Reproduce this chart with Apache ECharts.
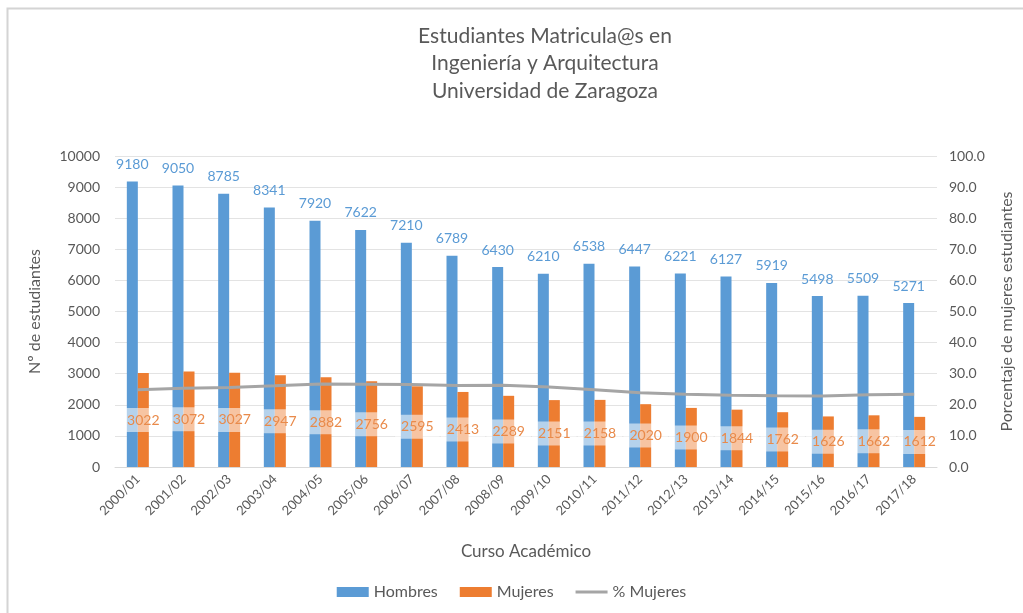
<!DOCTYPE html>
<html><head><meta charset="utf-8">
<script src="https://cdn.jsdelivr.net/npm/echarts@6/dist/echarts.min.js"></script>
<style>html,body{margin:0;padding:0;background:#fff}#c{width:1023px;height:613px}</style>
</head><body><div id="c"></div>
<script>
const categories = ["2000/01","2001/02","2002/03","2003/04","2004/05","2005/06","2006/07","2007/08","2008/09","2009/10","2010/11","2011/12","2012/13","2013/14","2014/15","2015/16","2016/17","2017/18"];
const hombres = [9180,9050,8785,8341,7920,7622,7210,6789,6430,6210,6538,6447,6221,6127,5919,5498,5509,5271];
const mujeres = [3022,3072,3027,2947,2882,2756,2595,2413,2289,2151,2158,2020,1900,1844,1762,1626,1662,1612];
const pctMujeres = [24.8,25.3,25.6,26.1,26.7,26.6,26.5,26.2,26.3,25.7,24.8,23.9,23.4,23.1,22.9,22.8,23.2,23.4];
const leftTicks = {min:0,max:10000,interval:1000};
const rightTicks = {min:0,max:100,interval:10};

const FONT = 'Lato';
const TXT = '#595959';
const chart = echarts.init(document.getElementById('c'));
chart.setOption({
  animation:false,
  textStyle:{fontFamily:FONT},
  graphic:[{type:'rect',shape:{x:7.5,y:8.5,width:1100,height:700},style:{fill:'none',stroke:'#D4D4D4',lineWidth:2},silent:true}],
  title:{text:'Estudiantes Matricula@s en\nIngeniería y Arquitectura\nUniversidad de Zaragoza',left:540,top:17,
    textAlign:'center',
    textStyle:{fontFamily:FONT,fontSize:21,fontWeight:'normal',color:TXT,lineHeight:27.5}},
  legend:{bottom:8,left:'center',itemGap:22,itemWidth:32,itemHeight:10,
    textStyle:{fontFamily:FONT,fontSize:16,color:TXT},
    data:[{name:'Hombres',icon:'rect'},{name:'Mujeres',icon:'rect'},{name:'% Mujeres',icon:'path://M0,0L34,0L34,3L0,3Z'}]},
  grid:{left:115,right:83,top:156,bottom:146,containLabel:false},
  xAxis:{type:'category',data:categories,name:'Curso Académico',nameLocation:'middle',nameGap:76,
    nameTextStyle:{fontFamily:FONT,fontSize:17,color:TXT},
    axisLine:{lineStyle:{color:'#D9D9D9'}},axisTick:{show:false},
    axisLabel:{rotate:45,color:TXT,fontSize:13,fontFamily:FONT,interval:0,margin:10}},
  yAxis:[
    {type:'value',min:leftTicks.min,max:leftTicks.max,interval:leftTicks.interval,name:'Nº de estudiantes',
     nameLocation:'middle',nameGap:72,nameTextStyle:{fontFamily:FONT,fontSize:16,color:TXT},
     axisLabel:{color:TXT,fontSize:14,fontFamily:FONT,margin:15,formatter:v=>String(v)},
     splitLine:{lineStyle:{color:'#E3E3E3'}},axisLine:{show:false},axisTick:{show:false}},
    {type:'value',min:rightTicks.min,max:rightTicks.max,interval:rightTicks.interval,name:'Porcentaje de mujeres estudiantes',
     nameLocation:'middle',nameGap:62,nameTextStyle:{fontFamily:FONT,fontSize:16,color:TXT},
     axisLabel:{color:TXT,fontSize:14,fontFamily:FONT,margin:12,formatter:v=>v.toFixed(1)},
     splitLine:{show:false},axisLine:{show:false},axisTick:{show:false}}
  ],
  series:[
    {name:'Hombres',type:'bar',data:hombres,barWidth:11,barGap:'0%',itemStyle:{color:'#5B9BD5'},
     label:{show:true,position:'top',distance:10,color:'#5B9BD5',fontSize:14,fontFamily:FONT}},
    {name:'Mujeres',type:'bar',data:mujeres,barWidth:11,barGap:'0%',itemStyle:{color:'#ED7D31'},
     label:{show:true,position:'inside',color:'#E98A4A',fontSize:14,fontFamily:FONT,
       backgroundColor:'rgba(255,255,255,0.55)',padding:[5,6]}},
    {name:'% Mujeres',type:'line',yAxisIndex:1,data:pctMujeres,symbol:'none',
     lineStyle:{color:'#A5A5A5',width:3},itemStyle:{color:'#A5A5A5'},z:3}
  ]
});
</script></body></html>
